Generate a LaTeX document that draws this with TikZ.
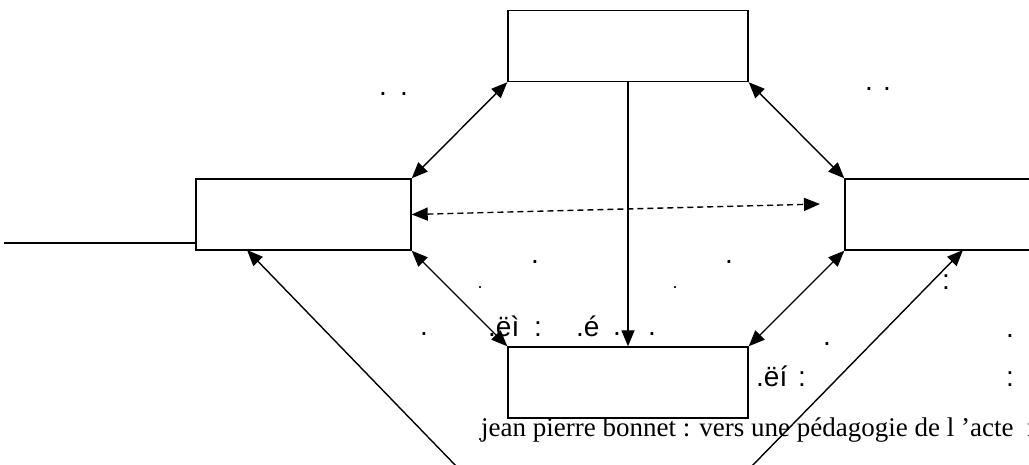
\documentclass[tikz,border=0pt]{standalone}
\usepackage{fontspec}
\setmainfont{Liberation Serif}
\newfontfamily\arial{Liberation Sans}
\usetikzlibrary{arrows.meta}
\begin{document}
\begin{tikzpicture}[x=1pt,y=-1pt,
  box/.style={draw,line width=1.4pt,fill=white,inner sep=0pt,minimum width=240pt,minimum height=71pt},
  link/.style={line width=1.4pt,{Triangle[length=16pt,width=13pt]}-{Triangle[length=16pt,width=13pt]}},
  onehead/.style={line width=1.4pt,-{Triangle[length=16pt,width=13pt]}},
  sans/.style={font=\arial\fontsize{28}{32}\selectfont,inner sep=0pt,anchor=base west},
  bigdot/.style={font=\arial\fontsize{28}{32}\selectfont,inner sep=0pt,anchor=base},
  smalldot/.style={font=\arial\fontsize{18}{22}\selectfont,inner sep=0pt,anchor=base},
  serif/.style={font=\fontsize{27}{31}\selectfont,inner sep=0pt,anchor=base west}]
\useasboundingbox (0,0) rectangle (1029,465);
% texts
\node[bigdot] (d1) at (383,95.5) {.};
\node[bigdot] (d2) at (404,95.5) {.};
\node[bigdot] (d3) at (869,90.5) {.};
\node[bigdot] (d4) at (887,90.5) {.};
\node[bigdot] (d5) at (535,263.5) {.};
\node[bigdot] (d6) at (729,263.5) {.};
\node[smalldot] (d7) at (480,289) {.};
\node[smalldot] (d8) at (675,289) {.};
\node[smalldot,font=\arial\fontsize{28}{32}\selectfont] (d9) at (946,289.5) {:};
\node[bigdot] (d11) at (424,335.5) {.};
\node[sans] (t1) at (488,337) {.ëì};
\node[bigdot] (t2) at (538,337) {:};
\node[sans] (t3) at (576,337) {.é};
\node[bigdot] (d12) at (617,335.5) {.};
\node[bigdot] (d13) at (652,335.5) {.};
\node[bigdot] (d14) at (827,345.5) {.};
\node[bigdot] (d15) at (1010,337.5) {.};
\node[sans] (t4) at (756,386) {.ëí};
\node[bigdot] (t5) at (802,386) {:};
\node[bigdot] (t6) at (1010,386) {:};
\node[smalldot] (d16) at (480,440) {.};
\node[serif] (cite) at (481,436) {jean pierre bonnet : vers une pédagogie de l 'acte\ \ m};
% boxes
\node[box] (T) at (628,46) {};
\node[box,minimum width=215pt] (L) at (303.5,214.5) {};
\node[box,minimum width=200pt] (R) at (945,214.5) {};
\node[box] (B) at (628,382.5) {};
% connectors
\coordinate (lineend) at (4,243);
\coordinate (lineL) at (196,243);
\draw[line width=1.4pt] (lineend) -- (lineL);
\draw[link] (T.south west) -- (L.north east);
\draw[link] (T.south east) -- (R.north west);
\draw[link] (L.south east) -- (B.north west);
\draw[link] (B.north east) -- (R.south west);
\draw[onehead] (T.south) -- (B.north);
\coordinate (dashend) at (820,204);
\draw[link,dash pattern=on 6pt off 4pt] (L.east) -- (dashend);
\coordinate (lfoot) at (458,468);
\coordinate (ltip) at (247,250);
\draw[onehead] (lfoot) -- (ltip);
\coordinate (rfoot) at (750,468);
\coordinate (rtip) at (963,250);
\draw[onehead] (rfoot) -- (rtip);
\end{tikzpicture}
\end{document}
